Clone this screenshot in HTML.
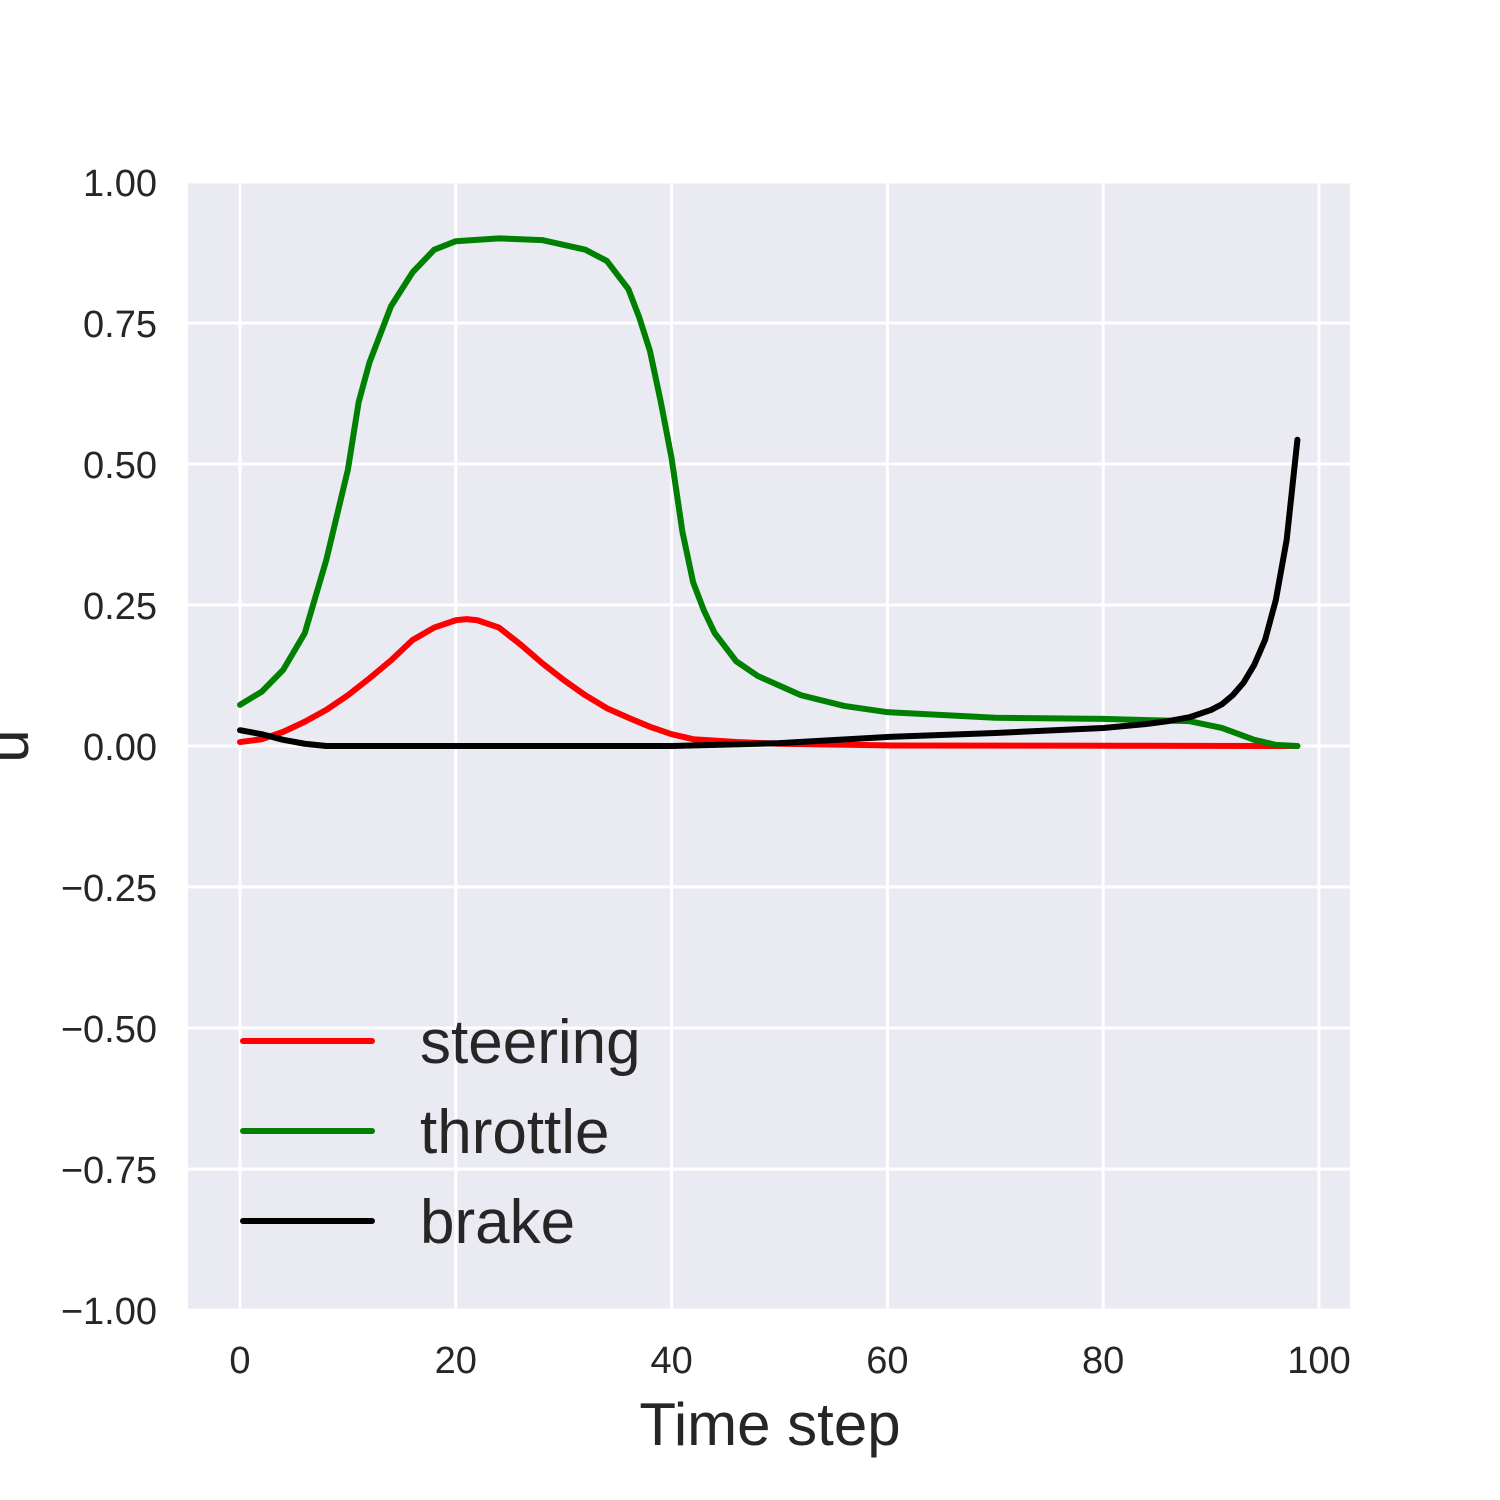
<!DOCTYPE html>
<html><head><meta charset="utf-8"><style>
body{margin:0;background:#fff;}
svg{display:block;font-family:"Liberation Sans",sans-serif;}
</style></head><body>
<svg id="chart" width="1500" height="1500" viewBox="0 0 1500 1500">
<rect x="188" y="182" width="1162" height="1128" fill="#eaeaf2"/>
<g id="grid"></g>
<g id="series"></g>
<g id="ticks" fill="#262626" font-size="38"></g>
<text x="770" y="1445" text-anchor="middle" font-size="60" fill="#262626">Time step</text>
<text transform="translate(28,746) rotate(-90)" text-anchor="middle" font-size="60" fill="#262626">u</text>
<g id="legend"></g>
</svg>
<script>
const xTicks=[0,20,40,60,80,100];
const yTicks=[1,0.75,0.5,0.25,0,-0.25,-0.5,-0.75,-1];
const yTickLabels=["1.00","0.75","0.50","0.25","0.00","\u22120.25","\u22120.50","\u22120.75","\u22121.00"];
const throttleX=[0,2,4,6,8,10,11,12,14,16,18,20,24,28,32,34,36,37,38,39,40,41,42,43,44,46,48,52,56,60,70,80,88,91,94,96,98];
const throttleY=[0.073,0.096,0.135,0.20,0.33,0.49,0.61,0.68,0.78,0.84,0.88,0.895,0.90,0.897,0.88,0.86,0.81,0.76,0.70,0.61,0.51,0.38,0.29,0.24,0.20,0.15,0.124,0.09,0.071,0.06,0.05,0.048,0.044,0.032,0.011,0.002,0];
const steeringX=[0,2,4,6,8,10,12,14,16,18,20,21,22,24,26,28,30,32,34,36,38,40,42,46,50,60,98];
const steeringY=[0.007,0.012,0.025,0.043,0.064,0.09,0.12,0.152,0.188,0.21,0.223,0.225,0.223,0.21,0.18,0.147,0.117,0.09,0.067,0.05,0.034,0.021,0.012,0.007,0.004,0.001,0];
const brakeX=[0,2,4,6,8,40,50,60,70,80,84,86,88,90,91,92,93,94,95,96,97,98];
const brakeY=[0.028,0.021,0.011,0.004,0,0,0.005,0.016,0.023,0.032,0.039,0.044,0.051,0.064,0.074,0.09,0.112,0.144,0.188,0.259,0.365,0.543];
const NS="http://www.w3.org/2000/svg";
const sx=v=>240+v*10.79;
const sy=v=>746-v*564;
function mk(tag,attrs,parent){const e=document.createElementNS(NS,tag);for(const k in attrs)e.setAttribute(k,attrs[k]);parent.appendChild(e);return e;}
const grid=document.getElementById('grid'),ticks=document.getElementById('ticks'),series=document.getElementById('series'),legend=document.getElementById('legend');
xTicks.forEach(t=>{
 const l=mk('line',{x1:sx(t),x2:sx(t),y1:182,y2:1310,stroke:'#fff','stroke-width':3},grid);
 
 
 const tx=mk('text',{x:sx(t),y:1373,'text-anchor':'middle'},ticks);tx.textContent=t;
 
 
});
yTicks.forEach((t,i)=>{
 const l=mk('line',{x1:188,x2:1350,y1:sy(t),y2:sy(t),stroke:'#fff','stroke-width':3},grid);
 
 
 const tx=mk('text',{x:157,y:sy(t)+14,'text-anchor':'end'},ticks);tx.textContent=yTickLabels[i];
 
 
});
function line(xs,ys,color,name){
 const p=mk('polyline',{points:xs.map((x,i)=>sx(x)+','+sy(ys[i])).join(' '),fill:'none',stroke:color,'stroke-width':6,'stroke-linejoin':'round','stroke-linecap':'round'},series);
 
 
}
line(steeringX,steeringY,'#ff0000','steering-line');
line(throttleX,throttleY,'#008000','throttle-line');
line(brakeX,brakeY,'#000000','brake-line');
[['steering','#ff0000',1041],['throttle','#008000',1131],['brake','#000000',1221]].forEach(([n,c,y])=>{
 const l=mk('line',{x1:243,x2:372,y1:y,y2:y,stroke:c,'stroke-width':6,'stroke-linecap':'round'},legend);
 
 
 const t=mk('text',{x:420,y:y+22,'font-size':62,fill:'#262626'},legend);t.textContent=n;
 
 
});
</script>
</body></html>
